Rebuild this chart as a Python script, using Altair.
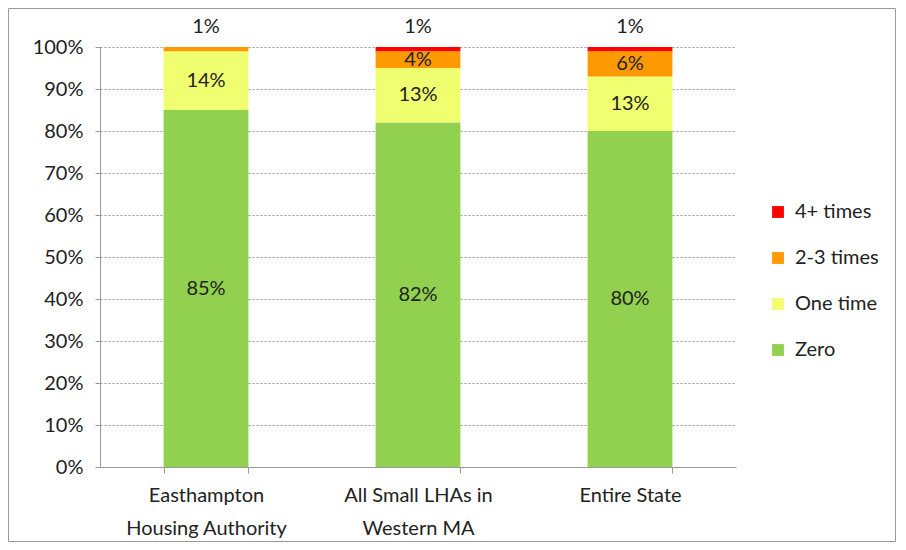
import altair as alt
import pandas as pd

categories = ["Easthampton\nHousing Authority", "All Small LHAs in\nWestern MA", "Entire State"]
series = ["Zero", "One time", "2-3 times", "4+ times"]
zero = [85, 82, 80]
one_time = [14, 13, 13]
two_three = [1, 4, 6]
four_plus = [0, 1, 1]
colors = {"Zero": "#92D050", "One time": "#F0FF70", "2-3 times": "#FF9900", "4+ times": "#FF0000"}

rows = []
for i, c in enumerate(categories):
    vals = [zero[i], one_time[i], two_three[i], four_plus[i]]
    top_idx = max(k for k, v in enumerate(vals) if v > 0)
    for k, s in enumerate(series):
        v = vals[k]
        rows.append({
            "category": c, "series": s, "value": v, "order": k,
            "inside": f"{v}%" if v >= 2 else "",
            "above": f"{v}%" if (k == top_idx and v < 2) else "",
        })
df = pd.DataFrame(rows)

FONT = "Lato"
FS = 20
legend_order = series[::-1]

x_enc = alt.X("category:N", sort=categories, title=None,
              scale=alt.Scale(paddingInner=0.6, paddingOuter=0.3),
              axis=alt.Axis(labelExpr="split(datum.label, '\\n')", labelAngle=0,
                            labelFontSize=FS, labelFont=FONT, labelColor="#222",
                            labelLineHeight=33, tickBand="extent", tickSize=6,
                            labelPadding=12, domainColor="#999", tickColor="#999",
                            grid=False))

base = alt.Chart(df)

bars = base.mark_bar().encode(
    x=x_enc,
    y=alt.Y("value:Q", stack="zero", title=None,
            scale=alt.Scale(domain=[0, 100], nice=False),
            axis=alt.Axis(values=list(range(0, 101, 10)), labelExpr="datum.value + '%'",
                          labelFontSize=FS, labelFont=FONT, labelColor="#222",
                          tickSize=5, labelPadding=12, domainColor="#999", tickColor="#999",
                          gridColor="#999", gridDash=[2, 2], gridWidth=1)),
    color=alt.Color("series:N", scale=alt.Scale(domain=legend_order,
                                                  range=[colors[s] for s in legend_order]),
                    legend=alt.Legend(title=None, orient="none", legendX=668, legendY=155,
                                      labelFontSize=FS, labelFont=FONT, labelColor="#222",
                                      symbolType="square", symbolSize=140, symbolStrokeWidth=0,
                                      rowPadding=26, labelOffset=7)),
    order=alt.Order("order:Q", sort="ascending"),
)

stacked = base.transform_stack(
    stack="value", groupby=["category"], sort=[alt.SortField("order")], as_=["y0", "y1"]
).transform_calculate(mid="(datum.y0 + datum.y1) / 2")

inside = stacked.mark_text(fontSize=FS, font=FONT, color="#222", baseline="middle").encode(
    x=alt.X("category:N", sort=categories),
    y=alt.Y("mid:Q"),
    text="inside:N",
)

above = stacked.transform_filter("datum.above != ''").mark_text(
    fontSize=FS, font=FONT, color="#222", baseline="middle", dy=-20).encode(
    x=alt.X("category:N", sort=categories),
    y=alt.Y("y1:Q"),
    text="above:N",
)

frame = alt.Chart(pd.DataFrame({"a": [0]})).mark_rect(
    fill=None, stroke="#999", strokeWidth=1).encode(
    x=alt.value(-91.5), x2=alt.value(795.5), y=alt.value(-38.5), y2=alt.value(494.5))

chart = alt.layer(bars, inside, above, frame).properties(
    width=636, height=420,
    autosize=alt.AutoSizeParams(type="none"),
    padding={"left": 92, "top": 39, "right": 160, "bottom": 75},
).configure_view(stroke=None)

chart.save("out.html", embed_options={"renderer": "svg", "actions": False})
